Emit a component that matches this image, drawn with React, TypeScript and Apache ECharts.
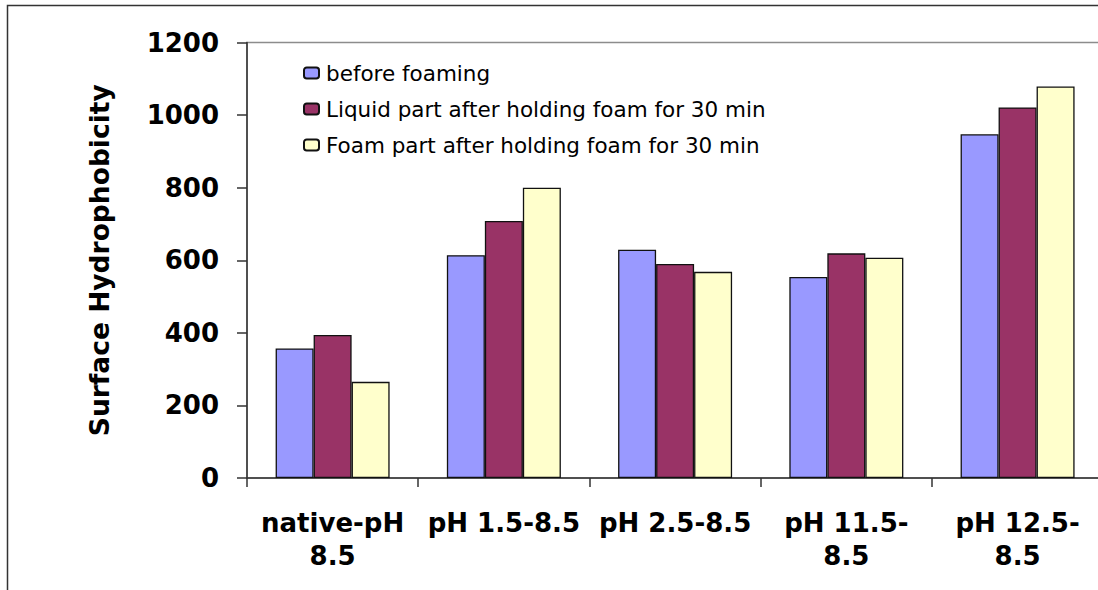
import React, { useEffect, useRef } from "react";
import * as echarts from "echarts";

const categories = ["native-pH\n8.5", "pH 1.5-8.5", "pH 2.5-8.5", "pH 11.5-\n8.5", "pH 12.5-\n8.5"];
const seriesNames = [
  "before foaming",
  "Liquid part after holding foam for 30 min",
  "Foam part after holding foam for 30 min",
];
const beforeFoaming = [357, 614, 629, 554, 947];
const liquidPart = [394, 708, 590, 619, 1021];
const foamPart = [265, 800, 568, 607, 1079];
const yTicks = { min: 0, max: 1200, interval: 200 };
const colors = ["#9999FF", "#993366", "#FFFFCC"];

export default function App() {
  const ref = useRef<HTMLDivElement>(null);
  useEffect(() => {
    document.body.style.margin = "0";
    document.body.style.overflow = "hidden";
    const chart = echarts.init(ref.current!, null, { renderer: "svg" });
    const values = [beforeFoaming, liquidPart, foamPart];
    chart.setOption({
      animation: false,
      backgroundColor: "#fff",
      textStyle: { fontFamily: "DejaVu Sans" },
      grid: {
        left: 247,
        top: 42.5,
        right: 6.8,
        bottom: 112,
        show: true,
        borderColor: "#8c8c8c",
        borderWidth: 1.5,
      },
      legend: {
        orient: "vertical",
        left: 303,
        top: 61,
        padding: 0,
        itemWidth: 15,
        itemHeight: 11,
        itemGap: 12,
        data: seriesNames,
        textStyle: {
          fontFamily: "DejaVu Sans",
          fontSize: 21.5,
          color: "#000",
          lineHeight: 24,
          padding: [0, 0, 0, 2],
        },
      },
      xAxis: {
        type: "category",
        data: categories,
        axisLine: { lineStyle: { color: "#333", width: 1.5 } },
        axisTick: { show: true, length: 9, lineStyle: { color: "#333", width: 1.5 } },
        axisLabel: {
          fontFamily: "DejaVu Sans",
          fontWeight: "bold",
          fontSize: 26,
          color: "#000",
          lineHeight: 33,
          margin: 28,
          interval: 0,
        },
      },
      yAxis: {
        type: "value",
        min: yTicks.min,
        max: yTicks.max,
        interval: yTicks.interval,
        name: "Surface Hydrophobicity",
        nameLocation: "middle",
        nameRotate: 90,
        nameGap: 134,
        nameTextStyle: {
          fontFamily: "DejaVu Sans",
          fontWeight: "bold",
          fontSize: 26.5,
          color: "#000",
        },
        splitLine: { show: false },
        axisLine: { show: true, lineStyle: { color: "#333", width: 1.5 } },
        axisTick: { show: true, length: 10, lineStyle: { color: "#333", width: 1.5 } },
        axisLabel: {
          fontFamily: "DejaVu Sans",
          fontWeight: "bold",
          fontSize: 26,
          color: "#000",
          margin: 28,
          formatter: (v: number) => String(v),
        },
      },
      series: seriesNames.map((name, i) => ({
        name,
        type: "bar",
        data: values[i],
        barWidth: 38,
        barGap: "0%",
        itemStyle: { color: colors[i], borderColor: "#111", borderWidth: 1.3 },
      })),
      graphic: [
        {
          type: "rect",
          shape: { x: 7.5, y: 5.5, width: 1300, height: 1000 },
          style: { fill: "none", stroke: "#333", lineWidth: 1.5 },
          silent: true,
        },
      ],
    });
    return () => chart.dispose();
  }, []);
  return <div ref={ref} style={{ width: 1110, height: 590 }} />;
}
